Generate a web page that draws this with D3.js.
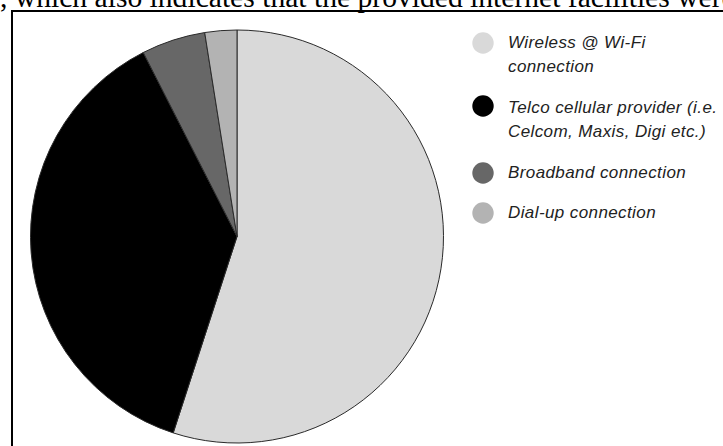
<!DOCTYPE html>
<html><head><meta charset="utf-8">
<script src="https://cdn.jsdelivr.net/npm/d3@7"></script>
<style>html,body{margin:0;padding:0;background:#fff;overflow:hidden}</style>
</head><body>
<svg id="c" width="723" height="446"></svg>
<script>
const categories = ["Wireless @ Wi-Fi connection", "Telco cellular provider (i.e. Celcom, Maxis, Digi etc.)", "Broadband connection", "Dial-up connection"];
const legendLines = [["Wireless @ Wi-Fi", "connection"], ["Telco cellular provider (i.e.", "Celcom, Maxis, Digi etc.)"], ["Broadband connection"], ["Dial-up connection"]];
const values = [55, 37.5, 5, 2.5];
const colors = ["#d9d9d9", "#000000", "#676767", "#b3b3b3"];
const caption = ", which also indicates that the provided internet facilities were";

const svg = d3.select("#c");
// caption text from document (cut off at top in the reference)
svg.append("text").attr("x", 0).attr("y", 7)
  .attr("font-family", "Liberation Serif, Times New Roman, serif")
  .attr("font-size", 29.6).attr("fill", "#000").text(caption);
// frame
svg.append("path").attr("d", "M12,446 V11 H723").attr("fill", "none")
  .attr("stroke", "#000").attr("stroke-width", 2);

const cx = 237, cy = 236.5, r = 206.5;
const pie = d3.pie().sort(null).value(d => d)(values);
const arc = d3.arc().innerRadius(0).outerRadius(r);
svg.append("g").attr("transform", `translate(${cx},${cy})`)
  .selectAll("path").data(pie).join("path")
  .attr("d", arc).attr("fill", (d, i) => colors[i])
  .attr("stroke", "#2a2a2a").attr("stroke-width", 1);

const cyL = [43, 106, 173, 213];
const baseL = [47.5, 112.5, 177.5, 218];
const lg = svg.append("g");
categories.forEach((c, i) => {
  lg.append("circle").attr("cx", 483).attr("cy", cyL[i]).attr("r", 10.7).attr("fill", colors[i]);
  const t = lg.append("text").attr("x", 508).attr("y", baseL[i])
    .attr("font-family", "Liberation Sans, Arial, sans-serif").attr("font-style", "italic")
    .attr("font-size", 17).attr("letter-spacing", 0.4).attr("fill", "#222");
  legendLines[i].forEach((l, j) => t.append("tspan").attr("x", 508).attr("dy", j ? 24 : 0).text(l));
});
</script>
</body></html>
